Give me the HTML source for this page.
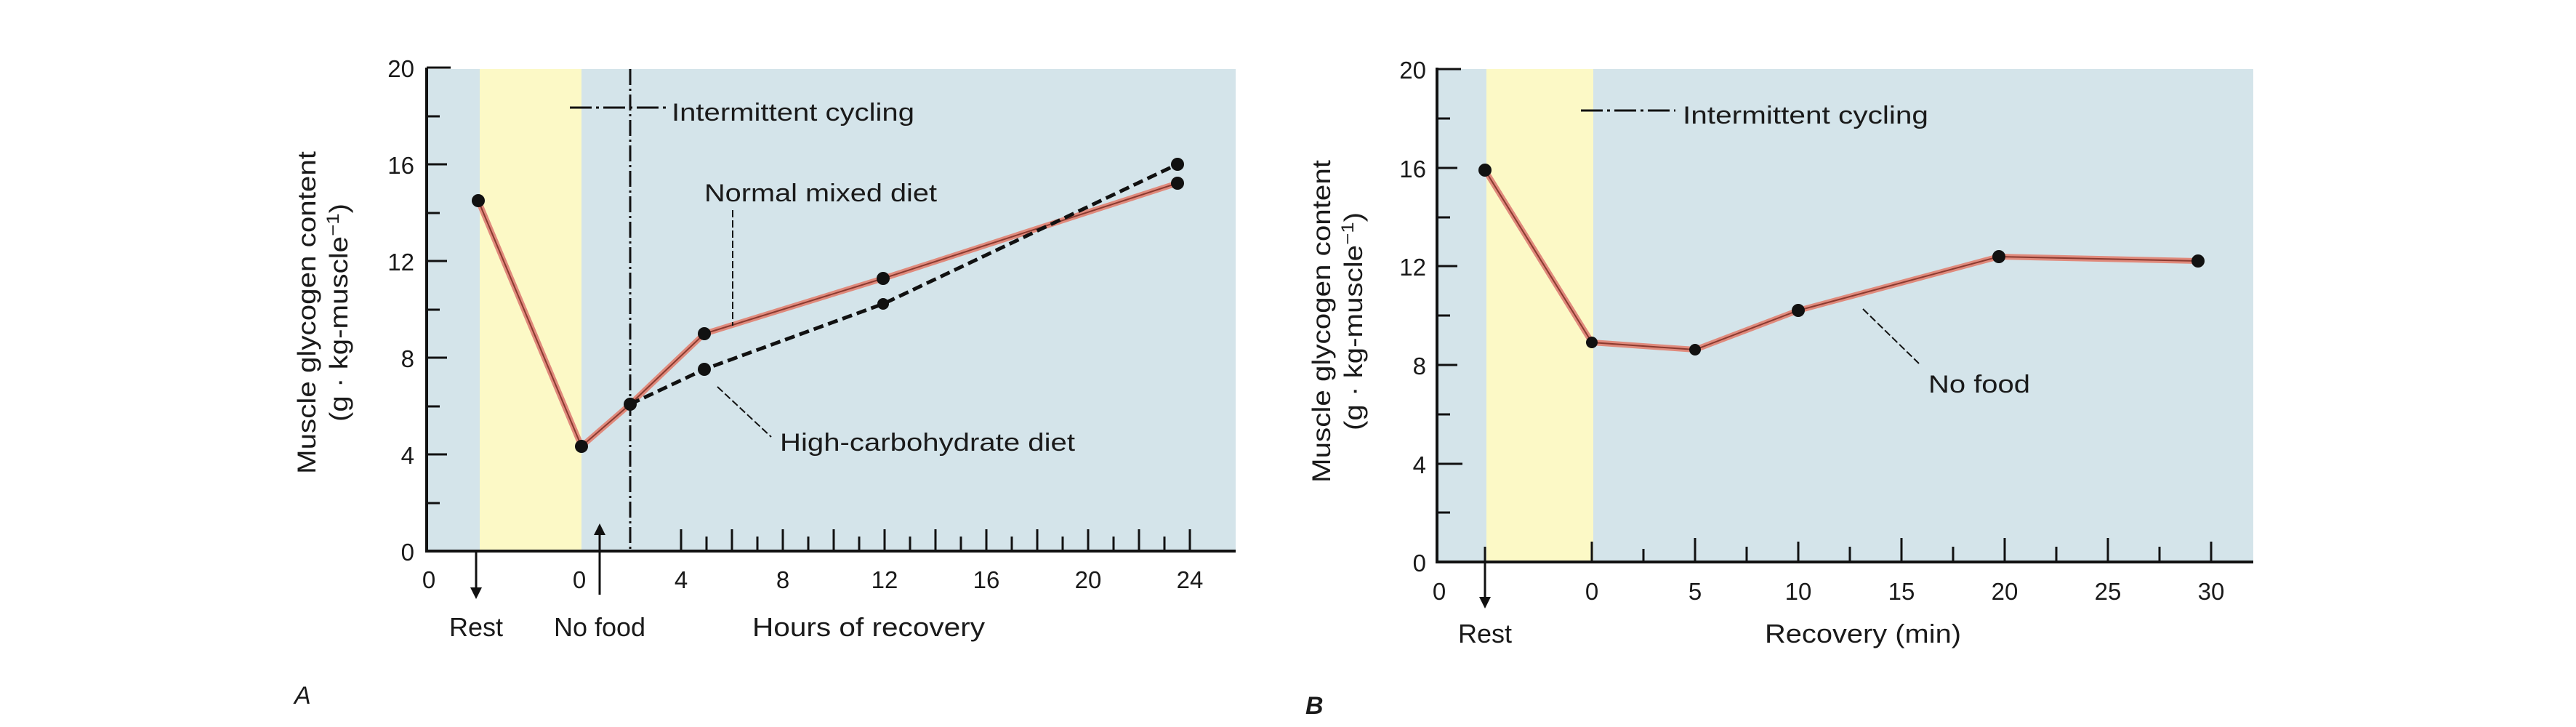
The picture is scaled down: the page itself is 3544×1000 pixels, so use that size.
<!DOCTYPE html>
<html><head><meta charset="utf-8"><style>html,body{margin:0;padding:0;background:#fff}svg{display:block}</style></head>
<body>
<svg width="3544" height="1000" viewBox="0 0 3544 1000" xmlns="http://www.w3.org/2000/svg" font-family="Liberation Sans, Arial, sans-serif" fill="#1a1a1a">
<!-- Chart A -->
<rect x="588" y="95" width="1112" height="663" fill="#d4e4ea"/>
<rect x="660" y="95" width="140" height="663" fill="#fcf9c6"/>
<line x1="867" y1="95" x2="867" y2="758" stroke="#111" stroke-width="3" stroke-dasharray="22,5,3,5"/>
<line x1="587" y1="93" x2="587" y2="760" stroke="#111" stroke-width="4"/>
<line x1="585" y1="758" x2="1700" y2="758" stroke="#111" stroke-width="4"/>
<g stroke="#111" stroke-width="3">
<line x1="587" y1="93" x2="620" y2="93"/><line x1="587" y1="160" x2="605" y2="160"/>
<line x1="587" y1="226" x2="615" y2="226"/><line x1="587" y1="293" x2="605" y2="293"/>
<line x1="587" y1="359" x2="615" y2="359"/><line x1="587" y1="426" x2="605" y2="426"/>
<line x1="587" y1="492" x2="615" y2="492"/><line x1="587" y1="559" x2="605" y2="559"/>
<line x1="587" y1="625" x2="615" y2="625"/><line x1="587" y1="692" x2="605" y2="692"/>
<line x1="937" y1="758" x2="937" y2="728"/><line x1="972" y1="758" x2="972" y2="738"/>
<line x1="1007" y1="758" x2="1007" y2="728"/><line x1="1042" y1="758" x2="1042" y2="738"/>
<line x1="1077" y1="758" x2="1077" y2="728"/><line x1="1112" y1="758" x2="1112" y2="738"/>
<line x1="1147" y1="758" x2="1147" y2="728"/><line x1="1182" y1="758" x2="1182" y2="738"/>
<line x1="1217" y1="758" x2="1217" y2="728"/><line x1="1252" y1="758" x2="1252" y2="738"/>
<line x1="1287" y1="758" x2="1287" y2="728"/><line x1="1322" y1="758" x2="1322" y2="738"/>
<line x1="1357" y1="758" x2="1357" y2="728"/><line x1="1392" y1="758" x2="1392" y2="738"/>
<line x1="1427" y1="758" x2="1427" y2="728"/><line x1="1462" y1="758" x2="1462" y2="738"/>
<line x1="1497" y1="758" x2="1497" y2="728"/><line x1="1532" y1="758" x2="1532" y2="738"/>
<line x1="1567" y1="758" x2="1567" y2="728"/><line x1="1602" y1="758" x2="1602" y2="738"/>
<line x1="1637" y1="758" x2="1637" y2="728"/>
</g>
<!-- series A -->
<polyline points="658,276 800,614 867,556 969,459 1215,383 1620,252" fill="none" stroke="#e08a7c" stroke-width="8"/>
<polyline points="658,276 800,614 867,556 969,459 1215,383 1620,252" fill="none" stroke="#8a3a30" stroke-width="2"/>
<polyline points="867,556 969,508 1215,418 1620,226" fill="none" stroke="#111" stroke-width="5" stroke-dasharray="14,7"/>
<g fill="#111"><circle cx="658" cy="276" r="9"/><circle cx="800" cy="614" r="9"/><circle cx="867" cy="556" r="9"/>
<circle cx="969" cy="459" r="9"/><circle cx="1215" cy="383" r="9"/><circle cx="1620" cy="252" r="9"/>
<circle cx="969" cy="508" r="9"/><circle cx="1215" cy="418" r="8"/><circle cx="1620" cy="226" r="9"/></g>
<!-- annotations A -->
<line x1="784" y1="148" x2="919" y2="148" stroke="#111" stroke-width="3" stroke-dasharray="30,6,4,6"/>
<text x="924" y="166" font-size="34" textLength="334" lengthAdjust="spacingAndGlyphs">Intermittent cycling</text>
<text x="969" y="277" font-size="34" textLength="320" lengthAdjust="spacingAndGlyphs">Normal mixed diet</text>
<line x1="1008" y1="289" x2="1008" y2="448" stroke="#111" stroke-width="2" stroke-dasharray="10,4"/>
<text x="1073" y="620" font-size="34" textLength="406" lengthAdjust="spacingAndGlyphs">High-carbohydrate diet</text>
<line x1="987" y1="532" x2="1061" y2="601" stroke="#111" stroke-width="2" stroke-dasharray="10,4"/>
<!-- arrows A -->
<line x1="655" y1="760" x2="655" y2="812" stroke="#111" stroke-width="3"/><polygon points="647,808 663,808 655,824" fill="#111"/>
<line x1="825" y1="732" x2="825" y2="818" stroke="#111" stroke-width="3"/><polygon points="817,736 833,736 825,720" fill="#111"/>
<g font-size="33" text-anchor="middle">
<text x="590" y="809">0</text><text x="797" y="809">0</text><text x="937" y="809">4</text><text x="1077" y="809">8</text>
<text x="1217" y="809">12</text><text x="1357" y="809">16</text><text x="1497" y="809">20</text><text x="1637" y="809">24</text>
</g>
<g font-size="33" text-anchor="end">
<text x="570" y="106">20</text><text x="570" y="239">16</text><text x="570" y="372">12</text>
<text x="570" y="505">8</text><text x="570" y="638">4</text><text x="570" y="771">0</text>
</g>
<g font-size="36" text-anchor="middle">
<text x="655" y="875">Rest</text><text x="825" y="875">No food</text><text x="1195" y="875" textLength="320" lengthAdjust="spacingAndGlyphs">Hours of recovery</text>
</g>
<text x="405" y="968" font-size="34" font-style="italic">A</text>
<g font-size="35" text-anchor="middle">
<text transform="translate(434,430) rotate(-90)" textLength="444" lengthAdjust="spacingAndGlyphs">Muscle glycogen content</text>
<text transform="translate(478,430) rotate(-90)" textLength="300" lengthAdjust="spacingAndGlyphs">(g · kg-muscle<tspan font-size="24" dy="-12">−1</tspan><tspan dy="12">)</tspan></text>
</g>

<!-- Chart B -->
<rect x="1978" y="95" width="1122" height="678" fill="#d4e4ea"/>
<rect x="2045" y="95" width="147" height="678" fill="#fcf9c6"/>
<line x1="1977" y1="93" x2="1977" y2="775" stroke="#111" stroke-width="4"/>
<line x1="1975" y1="773" x2="3100" y2="773" stroke="#111" stroke-width="4"/>
<g stroke="#111" stroke-width="3">
<line x1="1977" y1="95" x2="2010" y2="95"/><line x1="1977" y1="163" x2="1995" y2="163"/>
<line x1="1977" y1="231" x2="2005" y2="231"/><line x1="1977" y1="299" x2="1995" y2="299"/>
<line x1="1977" y1="366" x2="2005" y2="366"/><line x1="1977" y1="434" x2="1995" y2="434"/>
<line x1="1977" y1="502" x2="2005" y2="502"/><line x1="1977" y1="570" x2="1995" y2="570"/>
<line x1="1977" y1="638" x2="2012" y2="638"/><line x1="1977" y1="705" x2="1995" y2="705"/>
<line x1="2190" y1="773" x2="2190" y2="745"/><line x1="2261" y1="773" x2="2261" y2="755"/>
<line x1="2332" y1="773" x2="2332" y2="740"/><line x1="2403" y1="773" x2="2403" y2="752"/>
<line x1="2474" y1="773" x2="2474" y2="745"/><line x1="2545" y1="773" x2="2545" y2="752"/>
<line x1="2616" y1="773" x2="2616" y2="740"/><line x1="2687" y1="773" x2="2687" y2="752"/>
<line x1="2758" y1="773" x2="2758" y2="740"/><line x1="2829" y1="773" x2="2829" y2="752"/>
<line x1="2900" y1="773" x2="2900" y2="740"/><line x1="2971" y1="773" x2="2971" y2="752"/>
<line x1="3042" y1="773" x2="3042" y2="745"/>
</g>
<polyline points="2043,234 2190,471 2332,481 2474,427 2750,353 3024,359" fill="none" stroke="#e08a7c" stroke-width="8"/>
<polyline points="2043,234 2190,471 2332,481 2474,427 2750,353 3024,359" fill="none" stroke="#8a3a30" stroke-width="2"/>
<g fill="#111"><circle cx="2043" cy="234" r="9"/><circle cx="2190" cy="471" r="8"/><circle cx="2332" cy="481" r="8"/>
<circle cx="2474" cy="427" r="9"/><circle cx="2750" cy="353" r="9"/><circle cx="3024" cy="359" r="9"/></g>
<line x1="2175" y1="152" x2="2305" y2="152" stroke="#111" stroke-width="3" stroke-dasharray="30,6,4,6"/>
<text x="2315" y="170" font-size="34" textLength="338" lengthAdjust="spacingAndGlyphs">Intermittent cycling</text>
<text x="2653" y="540" font-size="34" textLength="140" lengthAdjust="spacingAndGlyphs">No food</text>
<line x1="2563" y1="425" x2="2640" y2="500" stroke="#111" stroke-width="2" stroke-dasharray="10,4"/>
<line x1="2043" y1="752" x2="2043" y2="825" stroke="#111" stroke-width="3"/><polygon points="2035,821 2051,821 2043,837" fill="#111"/>
<g font-size="33" text-anchor="middle">
<text x="1980" y="825">0</text><text x="2190" y="825">0</text><text x="2332" y="825">5</text><text x="2474" y="825">10</text>
<text x="2616" y="825">15</text><text x="2758" y="825">20</text><text x="2900" y="825">25</text><text x="3042" y="825">30</text>
</g>
<g font-size="33" text-anchor="end">
<text x="1962" y="108">20</text><text x="1962" y="244">16</text><text x="1962" y="379">12</text>
<text x="1962" y="515">8</text><text x="1962" y="651">4</text><text x="1962" y="786">0</text>
</g>
<g font-size="36" text-anchor="middle">
<text x="2043" y="884">Rest</text><text x="2563" y="884" textLength="270" lengthAdjust="spacingAndGlyphs">Recovery (min)</text>
</g>
<text x="1796" y="982" font-size="34" font-style="italic" font-weight="bold">B</text>
<g font-size="35" text-anchor="middle">
<text transform="translate(1830,442) rotate(-90)" textLength="444" lengthAdjust="spacingAndGlyphs">Muscle glycogen content</text>
<text transform="translate(1874,442) rotate(-90)" textLength="300" lengthAdjust="spacingAndGlyphs">(g · kg-muscle<tspan font-size="24" dy="-12">−1</tspan><tspan dy="12">)</tspan></text>
</g>
</svg>
</body></html>
